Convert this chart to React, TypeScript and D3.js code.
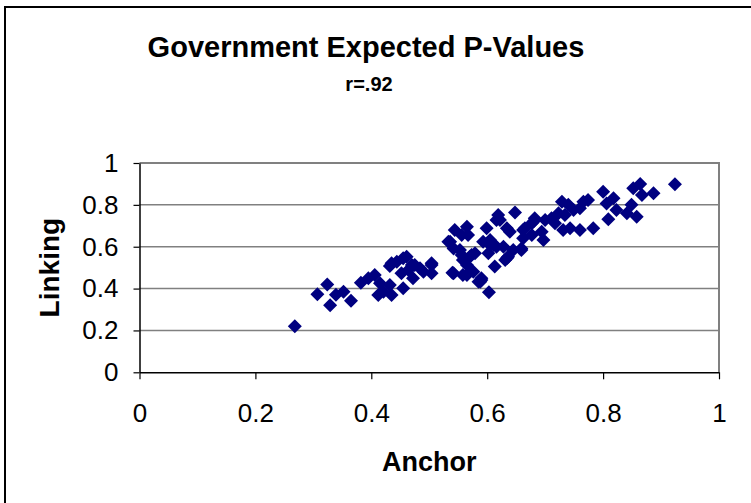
import React, { useEffect, useRef } from 'react';
import * as d3 from 'd3';

// values (Anchor on x, Linking on y)
const anchorValues = [
  0.268, 0.307, 0.324, 0.329, 0.339, 0.352, 0.365, 0.382, 0.395, 0.406,
  0.415, 0.412, 0.421, 0.432, 0.435, 0.432, 0.435, 0.444, 0.455, 0.461,
  0.455, 0.452, 0.464, 0.47, 0.472, 0.475, 0.484, 0.49, 0.504, 0.504,
  0.504, 0.54, 0.542, 0.536, 0.533, 0.544, 0.565, 0.556, 0.567, 0.553,
  0.542, 0.556, 0.573, 0.558, 0.565, 0.565, 0.558, 0.57, 0.579, 0.576,
  0.585, 0.588, 0.59, 0.59, 0.603, 0.599, 0.605, 0.593, 0.605, 0.602,
  0.613, 0.616, 0.616, 0.619, 0.622, 0.611, 0.628, 0.636, 0.631, 0.634,
  0.634, 0.639, 0.648, 0.645, 0.659, 0.659, 0.662, 0.662, 0.665, 0.677,
  0.68, 0.682, 0.677, 0.697, 0.694, 0.7, 0.711, 0.717, 0.723, 0.729,
  0.734, 0.731, 0.743, 0.74, 0.749, 0.76, 0.76, 0.766, 0.774, 0.783,
  0.8, 0.806, 0.818, 0.809, 0.823, 0.841, 0.849, 0.852, 0.864, 0.858,
  0.867, 0.887, 0.924,
];

const linkingValues = [
  0.22, 0.373, 0.42, 0.32, 0.37, 0.385, 0.342, 0.428, 0.449, 0.465,
  0.425, 0.369, 0.385, 0.417, 0.369, 0.508, 0.521, 0.528, 0.545, 0.552,
  0.401, 0.473, 0.489, 0.513, 0.449, 0.513, 0.497, 0.481, 0.521, 0.473,
  0.513, 0.476, 0.473, 0.624, 0.624, 0.68, 0.696, 0.656, 0.656, 0.584,
  0.592, 0.56, 0.56, 0.537, 0.513, 0.465, 0.465, 0.552, 0.569, 0.481,
  0.433, 0.433, 0.449, 0.441, 0.382, 0.688, 0.632, 0.624, 0.608, 0.569,
  0.505, 0.728, 0.6, 0.752, 0.728, 0.608, 0.6, 0.552, 0.537, 0.688,
  0.545, 0.672, 0.764, 0.584, 0.584, 0.592, 0.64, 0.68, 0.688, 0.712,
  0.72, 0.736, 0.656, 0.632, 0.672, 0.728, 0.736, 0.712, 0.76, 0.815,
  0.752, 0.68, 0.688, 0.8, 0.775, 0.68, 0.784, 0.815, 0.823, 0.688,
  0.863, 0.807, 0.831, 0.731, 0.775, 0.76, 0.8, 0.879, 0.9, 0.743,
  0.847, 0.855, 0.898,
];

const xTicks = [0, 0.2, 0.4, 0.6, 0.8, 1];
const yTicks = [0, 0.2, 0.4, 0.6, 0.8, 1];

const chartTitle = 'Government Expected P-Values';
const chartSubtitle = 'r=.92';
const xLabel = 'Anchor';
const yLabel = 'Linking';

const App: React.FC = () => {
  const svgRef = useRef<SVGSVGElement>(null);

  useEffect(() => {
    if (!svgRef.current) return;

    const svg = d3.select(svgRef.current);
    svg.selectAll('*').remove();

    const width = 751;
    const height = 503;
    const font = '"Liberation Sans", Arial, sans-serif';
    const plot = { left: 139.5, right: 719, top: 163, bottom: 372.3 };

    const x = d3.scaleLinear().domain([0, 1]).range([plot.left, plot.right]);
    const y = d3.scaleLinear().domain([0, 1]).range([plot.bottom, plot.top]);

    svg.append('rect').attr('width', width).attr('height', height).attr('fill', '#fff');

    // outer chart frame (right and bottom run past the window)
    svg
      .append('rect')
      .attr('x', 5)
      .attr('y', 7)
      .attr('width', 800)
      .attr('height', 600)
      .attr('fill', 'none')
      .attr('stroke', '#000')
      .attr('stroke-width', 2);

    // horizontal gridlines
    yTicks.slice(1, -1).forEach(t => {
      svg
        .append('line')
        .attr('x1', plot.left)
        .attr('x2', plot.right)
        .attr('y1', y(t))
        .attr('y2', y(t))
        .attr('stroke', '#808080')
        .attr('stroke-width', 1.5);
    });

    // plot area border, top and right
    svg
      .append('path')
      .attr('d', `M${plot.left},${plot.top}H${plot.right}V${plot.bottom}`)
      .attr('fill', 'none')
      .attr('stroke', '#808080')
      .attr('stroke-width', 2);

    const fmt = (d: d3.NumberValue) => `${+d}`;

    const xAxis = svg
      .append('g')
      .attr('transform', `translate(0,${plot.bottom})`)
      .call(
        d3.axisBottom(x).tickValues(xTicks).tickSize(7).tickPadding(24).tickSizeOuter(0).tickFormat(fmt)
      );

    const yAxis = svg
      .append('g')
      .attr('transform', `translate(${plot.left},0)`)
      .call(
        d3.axisLeft(y).tickValues(yTicks).tickSize(6).tickPadding(15).tickSizeOuter(0).tickFormat(fmt)
      );

    [xAxis, yAxis].forEach(g => {
      g.select('.domain').attr('stroke', '#000').attr('stroke-width', 1.5);
      g.selectAll('.tick line').attr('stroke', '#000').attr('stroke-width', 1.2);
      g.selectAll('.tick text')
        .attr('fill', '#000')
        .attr('font-family', font)
        .attr('font-size', '26px');
    });

    // points
    const diamond = d3.symbol().type(d3.symbolSquare).size(98);
    svg
      .append('g')
      .selectAll('path')
      .data(anchorValues.map((a, i) => [a, linkingValues[i]] as [number, number]))
      .join('path')
      .attr('d', diamond)
      .attr('transform', d => `translate(${x(d[0])},${y(d[1])}) rotate(45)`)
      .attr('fill', '#000080');

    // titles
    svg
      .append('text')
      .attr('x', 366)
      .attr('y', 57)
      .attr('text-anchor', 'middle')
      .attr('font-family', font)
      .attr('font-weight', 'bold')
      .attr('font-size', '29px')
      .text(chartTitle);

    svg
      .append('text')
      .attr('x', 369)
      .attr('y', 91)
      .attr('text-anchor', 'middle')
      .attr('font-family', font)
      .attr('font-weight', 'bold')
      .attr('font-size', '20px')
      .text(chartSubtitle);

    svg
      .append('text')
      .attr('x', (plot.left + plot.right) / 2)
      .attr('y', 471)
      .attr('text-anchor', 'middle')
      .attr('font-family', font)
      .attr('font-weight', 'bold')
      .attr('font-size', '27px')
      .text(xLabel);

    svg
      .append('text')
      .attr('transform', `translate(59,${(plot.top + plot.bottom) / 2}) rotate(-90)`)
      .attr('text-anchor', 'middle')
      .attr('font-family', font)
      .attr('font-weight', 'bold')
      .attr('font-size', '28px')
      .text(yLabel);
  }, []);

  return (
    <svg
      ref={svgRef}
      width={751}
      height={503}
      style={{ position: 'absolute', left: 0, top: 0, display: 'block' }}
    />
  );
};

export default App;
